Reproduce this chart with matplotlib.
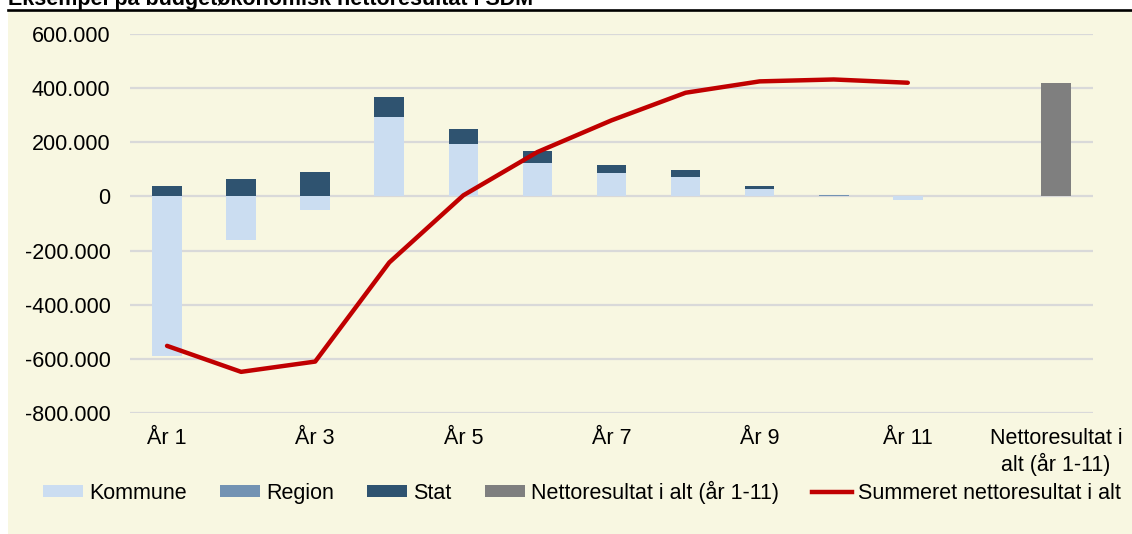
import matplotlib
matplotlib.use("Agg")
import matplotlib.pyplot as plt
from matplotlib.patches import Rectangle, Patch
from matplotlib.lines import Line2D
import numpy as np

plt.rcParams['font.family'] = ['Liberation Sans', 'DejaVu Sans']

title = "Eksempel på budgetøkonomisk nettoresultat i SDM"
categories = ["År 1", "År 2", "År 3", "År 4", "År 5", "År 6", "År 7", "År 8",
              "År 9", "År 10", "År 11", "", "Nettoresultat i\nalt (år 1-11)"]
kommune = [-590000, -162000, -50000, 294000, 192000, 123000, 86000, 70000, 28000, 0, -12000]
region = [0, 0, 0, 0, 0, 0, 0, 0, 0, 5000, 0]
stat = [37000, 66000, 90000, 72000, 56000, 43000, 31000, 27000, 12000, 0, 0]
netto_total = 420000
summeret = [-552000, -648000, -610000, -244000, 4000, 164000, 281000, 383000, 425000, 432000, 420000]
yticks = [-800000, -600000, -400000, -200000, 0, 200000, 400000, 600000]

c_kom = '#CBDDF1'
c_reg = '#7393B3'
c_stat = '#2F5370'
c_net = '#7F7F7F'
c_line = '#C00000'
bg = '#F8F7E1'
fs = 15.5

W, H = 1132, 534
fig = plt.figure(figsize=(W / 100, H / 100), dpi=100)
fig.patch.set_facecolor('white')
fig.patches.append(Rectangle((8 / W, 0), 1 - 8 / W, 1 - 11 / H, transform=fig.transFigure,
                             facecolor=bg, edgecolor='none', zorder=-10))
fig.add_artist(Line2D([8 / W, 1], [1 - 9.7 / H, 1 - 9.7 / H], transform=fig.transFigure,
                      color='black', lw=1.9))
fig.text(8 / W, 1 - 5 / H, title, fontsize=fs, fontweight='bold', ha='left', va='baseline')

ax = fig.add_axes([130 / W, 1 - 413 / H, (1093 - 130) / W, (413 - 34) / H])
ax.set_zorder(5)
ax.set_facecolor('none')

n = len(categories)
years = np.arange(len(kommune))
bw = 0.4
pos_bottom = np.zeros(len(kommune))
neg_bottom = np.zeros(len(kommune))
for vals, col in [(kommune, c_kom), (region, c_reg), (stat, c_stat)]:
    v = np.array(vals, dtype=float)
    bottoms = np.where(v >= 0, pos_bottom, neg_bottom)
    ax.bar(years, v, bw, bottom=bottoms, color=col, zorder=3)
    pos_bottom = pos_bottom + np.where(v > 0, v, 0)
    neg_bottom = neg_bottom + np.where(v < 0, v, 0)

ax.bar([n - 1], [netto_total], bw, color=c_net, zorder=3)
ax.plot(years, summeret, color=c_line, lw=3.2, zorder=4, solid_capstyle='round')

ax.set_xlim(-0.5, n - 0.5)
ax.set_ylim(-800000, 600000)
ax.set_yticks(yticks)
ax.set_yticklabels([f"{v:,}".replace(",", ".") for v in yticks], fontsize=fs)
ax.yaxis.grid(True, color='#D9D9D9', lw=1.6, zorder=1)
ax.set_axisbelow(True)
ax.set_xticks(np.arange(0, n, 2))
ax.set_xticklabels([categories[i] for i in range(0, n, 2)], fontsize=fs)
ax.tick_params(axis='both', length=0)
ax.tick_params(axis='y', pad=14)
ax.tick_params(axis='x', pad=11)
for s in ax.spines.values():
    s.set_visible(False)

handles = [Patch(facecolor=c_kom), Patch(facecolor=c_reg), Patch(facecolor=c_stat),
           Patch(facecolor=c_net), Line2D([], [], color=c_line, lw=3.2)]
labels = ["Kommune", "Region", "Stat", "Nettoresultat i alt (år 1-11)", "Summeret nettoresultat i alt"]
fig.legend(handles, labels, loc='center', bbox_to_anchor=(582 / W, 1 - 492 / H), ncol=5,
           frameon=False, fontsize=fs, handlelength=1.85, handleheight=0.5,
           handletextpad=0.28, columnspacing=1.55, borderaxespad=0, borderpad=0)

fig.savefig("out.png", dpi=100, facecolor=fig.get_facecolor())
